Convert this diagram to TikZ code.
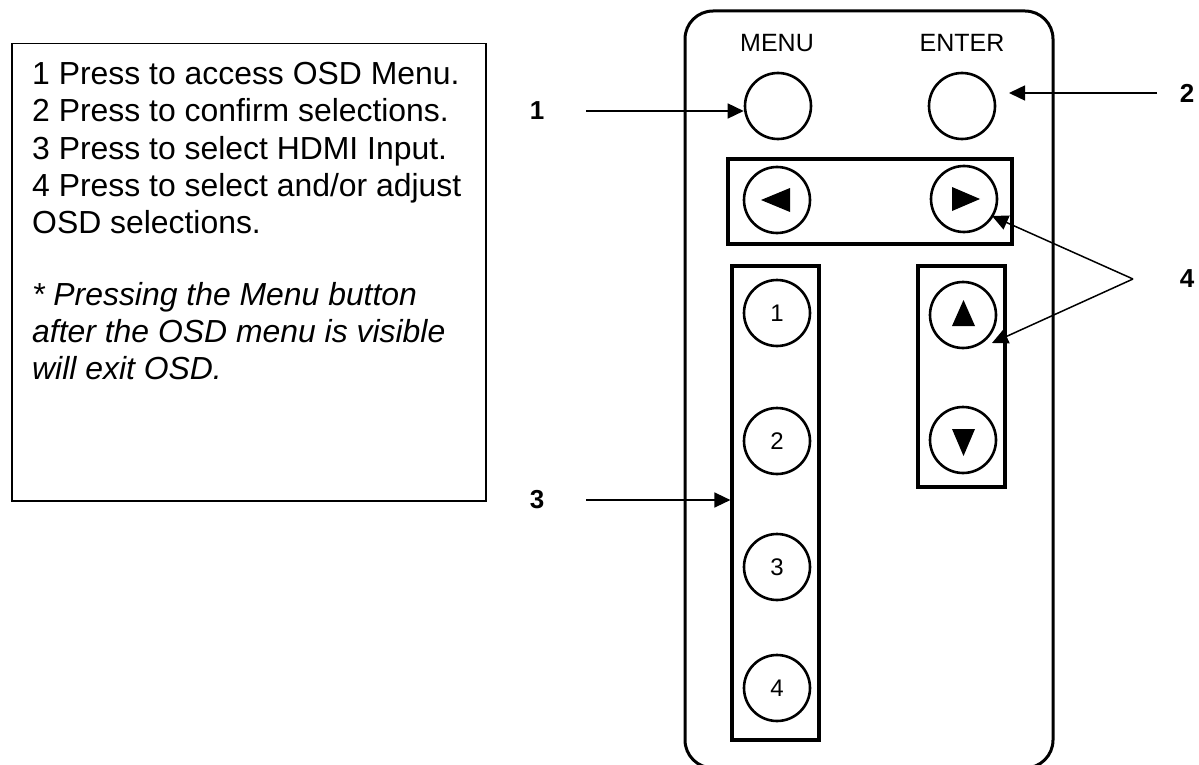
\documentclass[tikz,border=0pt]{standalone}
\usepackage{fontspec}
\setmainfont{Liberation Sans}
\usetikzlibrary{arrows.meta}
\begin{document}
\begin{tikzpicture}[x=1pt,y=-1pt,
  arr/.style={line width=1.5pt,-{Triangle[length=16pt,width=15pt]}},
  btn/.style={circle,draw,line width=2.6pt,minimum size=66pt,inner sep=0pt,font=\fontsize{24}{24}\selectfont},
  panel/.style={draw,line width=3.2pt},
  tri/.style={fill=black},
  callout/.style={font=\fontsize{26}{26}\selectfont\bfseries,inner sep=0pt},
  capt/.style={font=\fontsize{25}{25}\selectfont,inner sep=0pt},
  txt/.style={font=\fontsize{31.9}{37}\selectfont,anchor=base west,inner sep=0pt},
  itx/.style={txt,font=\fontsize{31.9}{37}\selectfont\itshape}]
\useasboundingbox (0,0) rectangle (1199,765);
\fill[white] (0,0) rectangle (1199,765);

% text box
\node[draw,line width=1.5pt,minimum width=474pt,minimum height=457pt,anchor=north west,inner sep=0pt] (box) at (11,43) {};
\node[txt] (t1) at (32,84.5) {1 Press to access OSD Menu.};
\node[txt] (t2) at (32,122) {2 Press to confirm selections.};
\node[txt] (t3) at (32,159) {3 Press to select HDMI Input.};
\node[txt] (t4) at (32,196) {4 Press to select and/or adjust};
\node[txt] (t5) at (32,233) {OSD selections.};
\node[itx] (t6) at (32,305) {* Pressing the Menu button};
\node[itx] (t7) at (32,342) {after the OSD menu is visible};
\node[itx] (t8) at (32,379) {will exit OSD.};

% remote outline
\draw[line width=3pt,rounded corners=28pt] (685,768) -- (685,11) -- (1053,11) -- (1053,768) -- cycle;

% top buttons
\node[capt] (menul) at (777,43) {MENU};
\node[capt] (enterl) at (962,43) {ENTER};
\node[btn] (menu) at (778,106) {};
\node[btn] (enter) at (962,106) {};

% arrow pad
\node[panel,minimum width=284pt,minimum height=85pt,inner sep=0pt] (pad) at (870,201.5) {};
\node[btn] (left) at (777,200) {};
\node[btn] (right) at (964,199) {};
\fill[tri] (790,188) -- (761,200) -- (790,212) -- cycle;
\fill[tri] (952,187) -- (980,199) -- (952,211) -- cycle;

% number column
\node[panel,minimum width=87pt,minimum height=474pt,inner sep=0pt] (col) at (775.5,503) {};
\node[btn] (b1) at (777,313) {1};
\node[btn] (b2) at (777,441) {2};
\node[btn] (b3) at (777,567) {3};
\node[btn] (b4) at (777,688) {4};

% up/down column
\node[panel,minimum width=87pt,minimum height=221pt,inner sep=0pt] (ud) at (961.5,376.5) {};
\node[btn] (up) at (963,315) {};
\node[btn] (down) at (963,440) {};
\fill[tri] (952,326) -- (963.5,300) -- (975,326) -- cycle;
\fill[tri] (952,429) -- (975,429) -- (963.5,456) -- cycle;

% callouts
\node[callout] (l1) at (537,111) {1};
\node[callout] (l2) at (1187,93) {2};
\node[callout] (l3) at (537,500) {3};
\node[callout] (l4) at (1187,279) {4};

\coordinate (a1) at (586,111);
\coordinate (a2) at (1157,93);
\coordinate (t2tip) at (1009,93);
\coordinate (a3) at (586,500);
\coordinate (v4) at (1133,279);
\coordinate (t4a) at (992,216);
\coordinate (t4b) at (992,343);

\draw[arr] (a1) -- (a1 -| menu.west);
\draw[arr] (a2) -- (t2tip);
\draw[arr] (a3) -- (a3 -| col.west);
\draw[arr] (v4) -- (t4a);
\draw[arr] (v4) -- (t4b);
\end{tikzpicture}
\end{document}
